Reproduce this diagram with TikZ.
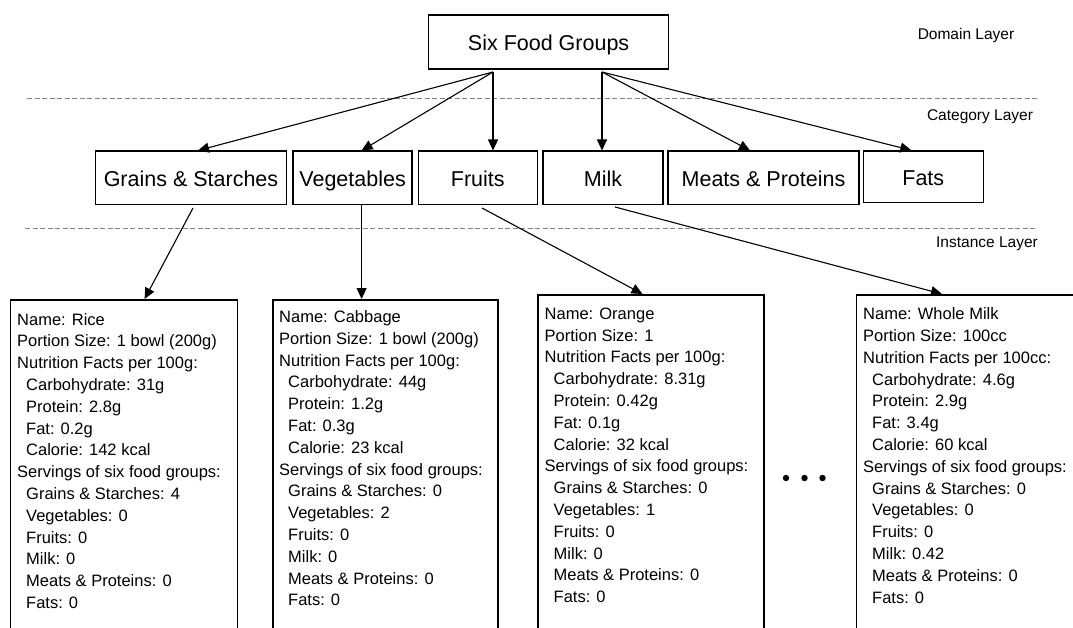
\documentclass[tikz,border=0pt]{standalone}
\usepackage{fontspec}
\setmainfont{Liberation Sans}
\usetikzlibrary{arrows.meta}

% indentation for the sub-items of an instance record
\newcommand\itm{\hspace*{9pt}}

\begin{document}
\begin{tikzpicture}[x=1pt,y=-1pt,
  rootbox/.style={draw, line width=1.5pt, inner sep=0pt, minimum width=240pt, minimum height=54pt,
    text height=18pt, text depth=1.5pt, font=\fontsize{21.5}{24}\selectfont},
  catbox/.style={draw, line width=1.5pt, inner sep=0pt, minimum height=53.5pt,
    text height=18pt, text depth=1.5pt, font=\fontsize{21.5}{24}\selectfont},
  infobox/.style={draw, line width=1.5pt, anchor=north west, inner sep=0pt,
    minimum width=227pt, minimum height=345pt},
  infotext/.style={anchor=north west, inner sep=0pt, align=left,
    font=\fontsize{16.5}{21.8}\selectfont},
  link/.style={line width=1.1pt, -{Triangle[length=11pt,width=10pt]}},
  layersep/.style={draw=gray, line width=1pt, dash pattern=on 5pt off 2.5pt},
  layerlabel/.style={font=\fontsize{15.5}{18}\selectfont},
]
\clip (0,0) rectangle (1073,628);

% layer separators and labels
\draw[layersep] (27,99) -- (1037,99);
\draw[layersep] (25,229) -- (1035,229);
\node[layerlabel] (domL) at (966,35.5) {Domain Layer};
\node[layerlabel] (catL) at (980,117) {Category Layer};
\node[layerlabel] (insL) at (987,244) {Instance Layer};

% domain layer
\node[rootbox] (root) at (548.6,42) {Six Food Groups};

% category layer
\node[catbox, minimum width=191pt] (grains) at (191,178) {Grains \& Starches};
\node[catbox, minimum width=119pt] (veg) at (352.6,178) {Vegetables};
\node[catbox, minimum width=119pt] (fruits) at (477.8,178) {Fruits};
\node[catbox, minimum width=120pt] (milk) at (603,178) {Milk};
\node[catbox, minimum width=191pt] (meats) at (763.5,178) {Meats \& Proteins};
\node[catbox, minimum width=120pt, minimum height=51.7pt] (fats) at (923.3,176.9) {Fats};

% instance layer
\node[infobox] (rice) at (9.6,299) {};
\node[infobox, minimum width=225pt] (cabbage) at (272,299) {};
\node[infobox, minimum width=226pt] (orange) at (537,294) {};
\node[infobox, minimum width=226pt] (wmilk) at (855.5,294) {};

\node[infotext] (riceT) at (17,313) {Name: Rice\\
Portion Size: 1 bowl (200g)\\
Nutrition Facts per 100g:\\
\itm Carbohydrate: 31g\\
\itm Protein: 2.8g\\
\itm Fat: 0.2g\\
\itm Calorie: 142 kcal\\
Servings of six food groups:\\
\itm Grains \& Starches: 4\\
\itm Vegetables: 0\\
\itm Fruits: 0\\
\itm Milk: 0\\
\itm Meats \& Proteins: 0\\
\itm Fats: 0};

\node[infotext] (cabbageT) at (279,310.3) {Name: Cabbage\\
Portion Size: 1 bowl (200g)\\
Nutrition Facts per 100g:\\
\itm Carbohydrate: 44g\\
\itm Protein: 1.2g\\
\itm Fat: 0.3g\\
\itm Calorie: 23 kcal\\
Servings of six food groups:\\
\itm Grains \& Starches: 0\\
\itm Vegetables: 2\\
\itm Fruits: 0\\
\itm Milk: 0\\
\itm Meats \& Proteins: 0\\
\itm Fats: 0};

\node[infotext] (orangeT) at (544.5,307.5) {Name: Orange\\
Portion Size: 1\\
Nutrition Facts per 100g:\\
\itm Carbohydrate: 8.31g\\
\itm Protein: 0.42g\\
\itm Fat: 0.1g\\
\itm Calorie: 32 kcal\\
Servings of six food groups:\\
\itm Grains \& Starches: 0\\
\itm Vegetables: 1\\
\itm Fruits: 0\\
\itm Milk: 0\\
\itm Meats \& Proteins: 0\\
\itm Fats: 0};

\node[infotext] (wmilkT) at (863,307.5) {Name: Whole Milk\\
Portion Size: 100cc\\
Nutrition Facts per 100cc:\\
\itm Carbohydrate: 4.6g\\
\itm Protein: 2.9g\\
\itm Fat: 3.4g\\
\itm Calorie: 60 kcal\\
Servings of six food groups:\\
\itm Grains \& Starches: 0\\
\itm Vegetables: 0\\
\itm Fruits: 0\\
\itm Milk: 0.42\\
\itm Meats \& Proteins: 0\\
\itm Fats: 0};

% ellipsis between the instance records
\fill (786,478) circle[radius=3.2pt];
\fill (804.5,478) circle[radius=3.2pt];
\fill (822.5,478) circle[radius=3.2pt];

% domain -> category connectors
\coordinate (fanL) at (493,72);
\coordinate (fanR) at (602,72);
\draw[link] (fanL) -- ([xshift=7pt]grains.north);
\draw[link] (fanL) -- ([xshift=9pt]veg.north);
\draw[link] (fanL) -- (fanL |- fruits.north);
\draw[link] (fanR) -- (fanR |- milk.north);
\draw[link] (fanR) -- ([xshift=-13.5pt]meats.north);
\draw[link] (fanR) -- ([xshift=-12pt]fats.north);

% category -> instance connectors
\coordinate (gOut) at (193,208);
\coordinate (vOut) at (361.6,205);
\coordinate (fOut) at (482,208);
\coordinate (mOut) at (615,207);
\draw[link] (gOut) -- ([xshift=135pt]rice.north west);
\draw[link] (vOut) -- (vOut |- cabbage.north);
\draw[link] (fOut) -- ([xshift=105.5pt]orange.north west);
\draw[link] (mOut) -- ([xshift=86.5pt]wmilk.north west);
\end{tikzpicture}
\end{document}
